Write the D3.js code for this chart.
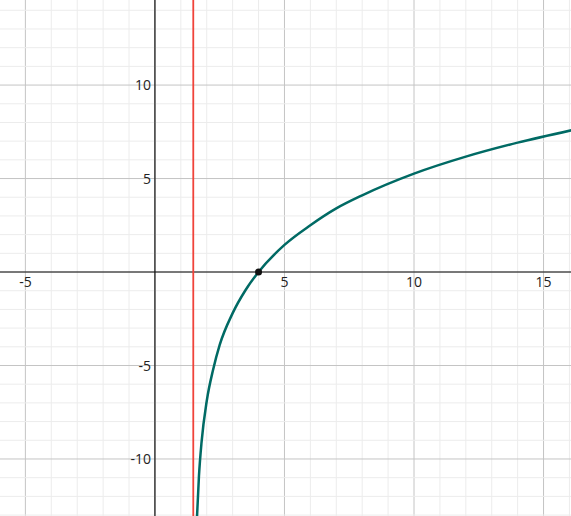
<!DOCTYPE html>
<html><head><meta charset="utf-8">
<script src="https://cdn.jsdelivr.net/npm/d3@7"></script>
<style>body{margin:0;background:#fff}svg{display:block}text{font-family:"Open Sans",sans-serif;font-size:14px;fill:#222}</style>
</head><body><svg id="c" width="571" height="516"></svg>
<script>
const xTicks=[-5,5,10,15];
const yTicks=[-10,-5,5,10];
const asymptoteX=1.48;
const curveX=[1.58,1.6,1.7,1.8,2,2.25,2.5,3,3.5,4,5,6,7,8,10,12,14,16.2];
const curveY=[-14.5,-13.8,-10.9,-9.1,-6.9,-5.2,-3.9,-2.2,-0.96,0,1.45,2.5,3.4,4.1,5.26,6.17,6.92,7.62];
const pointX=[4], pointY=[0];

const W=571,H=516;
const x=d3.scaleLinear().domain([-5.98,16.06]).range([0,W]);
const y=d3.scaleLinear().domain([14.55,-13.05]).range([0,H]);
const svg=d3.select("#c");
const g=svg.append("g");
const minorX=d3.range(-6,17), minorY=d3.range(-13,15);
g.selectAll(".mx").data(minorX).join("line").attr("x1",d=>x(d)).attr("x2",d=>x(d)).attr("y1",0).attr("y2",H).attr("stroke",d=>d%5===0?"#c4c4c4":"#ececec").attr("stroke-width",1);
g.selectAll(".my").data(minorY).join("line").attr("y1",d=>y(d)).attr("y2",d=>y(d)).attr("x1",0).attr("x2",W).attr("stroke",d=>d%5===0?"#c4c4c4":"#ececec").attr("stroke-width",1);
g.append("line").attr("x1",0).attr("x2",W).attr("y1",y(0)).attr("y2",y(0)).attr("stroke","#111").attr("stroke-width",1.2);
g.append("line").attr("y1",0).attr("y2",H).attr("x1",x(0)).attr("x2",x(0)).attr("stroke","#111").attr("stroke-width",1.2);
g.selectAll(".xl").data(xTicks).join("text").attr("x",d=>x(d)).attr("y",y(0)+15).attr("text-anchor","middle").text(d=>d<0?"-"+(-d):d);
g.selectAll(".yl").data(yTicks).join("text").attr("x",x(0)-4).attr("y",d=>y(d)+5).attr("text-anchor","end").text(d=>d<0?"-"+(-d):d);
g.append("line").attr("x1",x(asymptoteX)).attr("x2",x(asymptoteX)).attr("y1",0).attr("y2",H).attr("stroke","#f0433a").attr("stroke-width",1.8);
const pts=curveX.map((v,i)=>[v,curveY[i]]);
g.append("path").datum(pts).attr("d",d3.line().x(d=>x(d[0])).y(d=>y(d[1])).curve(d3.curveMonotoneX)).attr("fill","none").attr("stroke","#006a64").attr("stroke-width",2.5);
g.selectAll(".pt").data(pointX).join("circle").attr("cx",d=>x(d)).attr("cy",(d,i)=>y(pointY[i])).attr("r",3.5).attr("fill","#111");
</script></body></html>
